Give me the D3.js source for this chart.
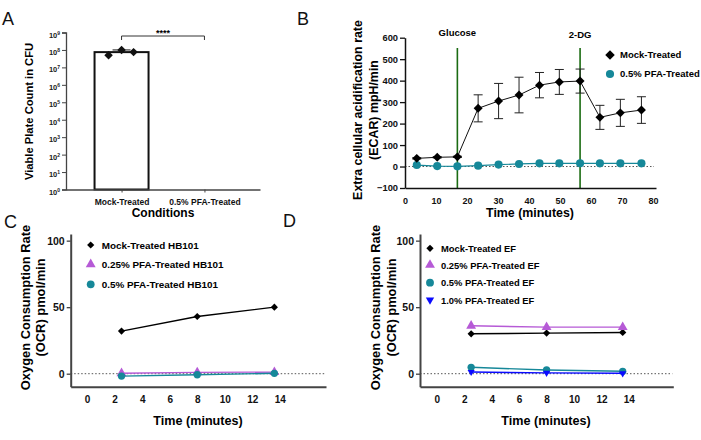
<!DOCTYPE html>
<html>
<head>
<meta charset="utf-8">
<script src="https://cdn.jsdelivr.net/npm/d3@7"></script>
<style>
  body { margin: 0; background: #fff; }
  svg { font-family: "Liberation Sans", Arial, sans-serif; }
  .bold { font-weight: bold; }
</style>
</head>
<body>
<div id="chart"></div>
<script>
// Panel A - viable plate count (log scale)
const aCategories = ["Mock-Treated", "0.5% PFA-Treated"];
const aMockCounts = [5.0e7, 1.0e8, 7.5e7];
const aExponents = [0, 1, 2, 3, 4, 5, 6, 7, 8, 9];

// Panel B - ECAR over time
const bTime = [3.8, 10.4, 16.9, 23.6, 30.2, 36.8, 43.4, 49.8, 56.5, 62.9, 69.5, 76.3];
const bMock = [38, 43, 45, 271, 305, 333, 379, 394, 398, 229, 250, 263];
const bMockSD = [3, 3, 3, 63, 82, 83, 59, 58, 56, 56, 63, 62];
const bPFA = [7, 2, 1, 4, 9, 12, 15, 15, 15, 15, 15, 15];
const bInjectLabels = ["Glucose", "2-DG"];
const bInjectTimes = [16.9, 56.5];
const bYTicks = [-100, 0, 100, 200, 300, 400, 500, 600];
const bXTicks = [0, 10, 20, 30, 40, 50, 60, 70, 80];

// Panel C - OCR HB101
const cTime = [2.5, 8.0, 13.6];
const cMock = [32, 43, 50];
const cPFA25 = [0.3, 1.0, 1.2];
const cPFA5 = [-1.8, -0.8, 0.3];

// Panel D - OCR EF
const dTime = [2.5, 8.0, 13.55];
const dMock = [30, 30.5, 31];
const dPFA25 = [36, 35, 35];
const dPFA5 = [4.8, 2.8, 1.8];
const dPFA10 = [1.3, 0.6, 0.3];

const ocrYTicks = [0, 50, 100];
const ocrXTicks = [0, 2, 4, 6, 8, 10, 12, 14];

const BLACK = "#000";
const PINK = "#b65ad6";
const TEAL = "#168899";
const BLUE = "#0a0aff";
const GREEN = "#1b6b12";

const svg = d3.select("#chart").append("svg")
    .attr("width", 701)
    .attr("height", 440);

function sym(type, size) {
    return d3.symbol().type(type).size(size)();
}
// GraphPad style diamond = rotated square
function diamond(g, x, y, size, color) {
    g.append("path")
        .attr("d", sym(d3.symbolSquare, size))
        .attr("transform", `translate(${x},${y}) rotate(45)`)
        .attr("fill", color);
}
function marker(g, kind, x, y, size, color) {
    if (kind === "diamond") return diamond(g, x, y, size, color);
    const types = { circle: d3.symbolCircle, triangle: d3.symbolTriangle, down: d3.symbolTriangle };
    g.append("path")
        .attr("d", sym(types[kind], size))
        .attr("transform", `translate(${x},${y})` + (kind === "down" ? " rotate(180)" : ""))
        .attr("fill", color);
}

function panelLetter(txt, x, y) {
    svg.append("text").attr("x", x).attr("y", y)
        .attr("font-size", 18).attr("fill", "#111").text(txt);
}
function vTitle(lines, xs, cy, size) {
    lines.forEach((t, i) => {
        svg.append("text")
            .attr("class", "bold")
            .attr("transform", `translate(${xs[i]},${cy}) rotate(-90)`)
            .attr("text-anchor", "middle")
            .attr("font-size", size)
            .text(t);
    });
}

// ---------------- Panel A ----------------
panelLetter("A", 2, 25);
const aX = d3.scalePoint().domain(aCategories).range([66, 260]).padding(0.67);
const aY = d3.scaleLog().domain([1, 1e9]).range([189.5, 32.5]);

const aMean = d3.mean(aMockCounts);
const aSD = d3.deviation(aMockCounts);
const bw = 54;

svg.append("rect")
    .attr("x", aX(aCategories[0]) - bw / 2)
    .attr("y", aY(aMean))
    .attr("width", bw)
    .attr("height", aY(1) - aY(aMean))
    .attr("fill", "#fff")
    .attr("stroke", "#111")
    .attr("stroke-width", 2);

// error bar
const ax0 = aX(aCategories[0]);
svg.append("line").attr("x1", ax0).attr("x2", ax0)
    .attr("y1", aY(aMean)).attr("y2", aY(aMean + aSD)).attr("stroke", "#111");
svg.append("line").attr("x1", ax0 - 9).attr("x2", ax0 + 9)
    .attr("y1", aY(aMean + aSD)).attr("y2", aY(aMean + aSD)).attr("stroke", "#111");

const jitter = [-13, 0, 12];
aMockCounts.forEach((v, i) => diamond(svg, ax0 + jitter[i], aY(v), 36, "#111"));

const aYAxis = svg.append("g")
    .attr("transform", "translate(66,0)")
    .call(d3.axisLeft(aY).tickValues(aExponents.map(e => Math.pow(10, e))).tickSize(4).tickPadding(2).tickFormat(""));
aYAxis.selectAll(".tick text").each(function (d) {
    const t = d3.select(this);
    t.append("tspan").text("10").attr("font-size", 7.5);
    t.append("tspan").text(Math.round(Math.log10(d))).attr("font-size", 5).attr("dy", -3);
});
aYAxis.selectAll("text").attr("class", "bold").attr("fill", "#222").attr("dy", "0.45em");
aYAxis.select(".domain").attr("stroke", "#444").attr("stroke-width", 1.3);
aYAxis.selectAll(".tick line").attr("stroke", "#444");

const aXAxis = svg.append("g")
    .attr("transform", "translate(0,189.5)")
    .call(d3.axisBottom(aX).tickSize(3).tickPadding(6).tickSizeOuter(0));
aXAxis.selectAll("text").attr("class", "bold").attr("font-size", 8.5).attr("fill", "#111");
aXAxis.select(".domain").attr("stroke", "#444").attr("stroke-width", 1.3);
aXAxis.selectAll(".tick line").attr("stroke", "#444");

// significance bracket
const ax1 = aX(aCategories[1]);
svg.append("path")
    .attr("d", `M${ax0},40V36H${ax1}V40`)
    .attr("fill", "none").attr("stroke", "#333");
svg.append("text").attr("class", "bold")
    .attr("x", (ax0 + ax1) / 2).attr("y", 35.5)
    .attr("text-anchor", "middle").attr("font-size", 9)
    .text("****");

vTitle(["Viable Plate Count in CFU"], [33], 111.5, 11.2);
svg.append("text").attr("class", "bold")
    .attr("x", 163).attr("y", 217).attr("text-anchor", "middle")
    .attr("font-size", 12).text("Conditions");

// ---------------- Panel B ----------------
panelLetter("B", 297, 25);
const bX = d3.scaleLinear().domain([0, 81]).range([405, 656]);
const bY = d3.scaleLinear().domain([-100, 600]).range([188, 37.7]);

// zero line
svg.append("line")
    .attr("x1", bX(0)).attr("x2", 654)
    .attr("y1", bY(0)).attr("y2", bY(0))
    .attr("stroke", "#555").attr("stroke-dasharray", "1.5,2");

// injection lines
bInjectTimes.forEach((t, i) => {
    svg.append("line")
        .attr("x1", bX(t)).attr("x2", bX(t))
        .attr("y1", 48).attr("y2", bY(-100))
        .attr("stroke", GREEN).attr("stroke-width", 1.6);
    svg.append("text").attr("class", "bold")
        .attr("x", bX(t)).attr("y", i === 0 ? 36 : 38)
        .attr("text-anchor", "middle").attr("font-size", 9.5)
        .text(bInjectLabels[i]);
});

const bLine = (vals) => d3.line().x((d, i) => bX(bTime[i])).y(d => bY(d))(vals);

svg.append("path").attr("d", bLine(bPFA))
    .attr("fill", "none").attr("stroke", TEAL).attr("stroke-width", 1.2);
bPFA.forEach((v, i) => marker(svg, "circle", bX(bTime[i]), bY(v), 52, TEAL));

svg.append("path").attr("d", bLine(bMock))
    .attr("fill", "none").attr("stroke", "#111").attr("stroke-width", 1);
bMock.forEach((v, i) => {
    const x = bX(bTime[i]);
    const sd = bMockSD[i];
    svg.append("line").attr("x1", x).attr("x2", x)
        .attr("y1", bY(v - sd)).attr("y2", bY(v + sd)).attr("stroke", "#222");
    [v - sd, v + sd].forEach(e => {
        svg.append("line").attr("x1", x - 4.5).attr("x2", x + 4.5)
            .attr("y1", bY(e)).attr("y2", bY(e)).attr("stroke", "#222");
    });
    diamond(svg, x, bY(v), 40, "#000");
});

const bYAxis = svg.append("g")
    .attr("transform", `translate(${bX(0)},0)`)
    .call(d3.axisLeft(bY).tickValues(bYTicks).tickSize(5).tickPadding(2).tickSizeOuter(0));
bYAxis.selectAll("text").attr("class", "bold").attr("font-size", 9.3).attr("fill", "#111");
bYAxis.select(".domain").attr("stroke", "#111").attr("stroke-width", 1.5);
bYAxis.selectAll(".tick line").attr("stroke", "#111").attr("stroke-width", 1.3);

const bXAxis = svg.append("g")
    .attr("transform", `translate(0,${bY(-100)})`)
    .call(d3.axisBottom(bX).tickValues(bXTicks).tickSize(0).tickPadding(9.5).tickSizeOuter(0));
bXAxis.selectAll("text").attr("class", "bold").attr("font-size", 9).attr("fill", "#111");
bXAxis.select(".domain").attr("stroke", "#111").attr("stroke-width", 1.5);

vTitle(["Extra cellular acidification rate", "(ECAR) mpH/min"], [362, 378], 110, 12.4);
svg.append("text").attr("class", "bold")
    .attr("x", 530).attr("y", 216.5).attr("text-anchor", "middle")
    .attr("font-size", 12.4).text("Time (minutes)");

// legend B
const bLegend = [["diamond", BLACK, "Mock-Treated", 45], ["circle", TEAL, "0.5% PFA-Treated", 52]];
bLegend.forEach((d, i) => {
    const y = 55 + i * 19;
    marker(svg, d[0], 610, y, d[3], d[1]);
    svg.append("text").attr("class", "bold")
        .attr("x", 620).attr("y", y + 3.4).attr("font-size", 9.5).text(d[2]);
});

// ---------------- Panels C and D ----------------
function ocrPanel(opt) {
    const x = d3.scaleLinear().domain(opt.xDomain).range(opt.xRange);
    const y = d3.scaleLinear().domain([-9.77, 105]).range([386.7, 234]);

    svg.append("line")
        .attr("x1", opt.xRange[0]).attr("x2", opt.xRange[1] - 1)
        .attr("y1", y(0)).attr("y2", y(0))
        .attr("stroke", "#555").attr("stroke-dasharray", "1.5,2");

    opt.series.forEach(s => {
        const line = d3.line().x((d, i) => x(opt.time[i])).y(d => y(d));
        svg.append("path").attr("d", line(s.values))
            .attr("fill", "none").attr("stroke", s.color).attr("stroke-width", 1.4);
        s.values.forEach((v, i) => marker(svg, s.kind, x(opt.time[i]), y(v), s.size, s.color));
    });

    const yAxis = svg.append("g")
        .attr("transform", `translate(${opt.xRange[0]},0)`)
        .call(d3.axisLeft(y).tickValues(ocrYTicks).tickSize(4).tickPadding(2).tickSizeOuter(0));
    yAxis.selectAll("text").attr("class", "bold").attr("font-size", 10.5).attr("fill", "#111");
    yAxis.select(".domain").attr("stroke", "#444").attr("stroke-width", 2);
    yAxis.selectAll(".tick line").attr("stroke", "#444").attr("stroke-width", 1.3);

    const xAxis = svg.append("g")
        .attr("transform", `translate(0,${y(-9.77)})`)
        .call(d3.axisBottom(x).tickValues(ocrXTicks).tickSize(0).tickPadding(9).tickSizeOuter(0));
    xAxis.selectAll("text").attr("class", "bold").attr("font-size", 10).attr("fill", "#111");
    xAxis.select(".domain").attr("stroke", "#444").attr("stroke-width", 2);

    vTitle(["Oxygen Consumption Rate", "(OCR) pmol/min"], opt.titleX, 307.5, 12.9);
    svg.append("text").attr("class", "bold")
        .attr("x", opt.timeX).attr("y", 425).attr("text-anchor", "middle")
        .attr("font-size", 12.6).text("Time (minutes)");

    opt.series.forEach((s, i) => {
        const ly = opt.legendY[i];
        marker(svg, s.kind, opt.legendX, ly, s.legendSize, s.color);
        svg.append("text").attr("class", "bold")
            .attr("x", opt.legendX + 11).attr("y", ly + 3.5)
            .attr("font-size", opt.legendFont).text(s.label);
    });
}

panelLetter("C", 4, 228);
ocrPanel({
    xDomain: [-1.19, 17.35], xRange: [70.7, 326],
    time: cTime,
    titleX: [30, 45], timeX: 198,
    legendX: 90.7, legendY: [245, 264.3, 284.3], legendFont: 9.9,
    series: [
        { label: "Mock-Treated HB101", values: cMock, color: BLACK, kind: "diamond", size: 26, legendSize: 26 },
        { label: "0.25% PFA-Treated HB101", values: cPFA25, color: PINK, kind: "triangle", size: 42, legendSize: 42 },
        { label: "0.5% PFA-Treated HB101", values: cPFA5, color: TEAL, kind: "circle", size: 42, legendSize: 48 }
    ]
});

panelLetter("D", 283, 227);
ocrPanel({
    xDomain: [-1.23, 17.24], xRange: [420, 673.3],
    time: dTime,
    titleX: [380, 395.5], timeX: 546,
    legendX: 430, legendY: [248.3, 265, 282.7, 300], legendFont: 9.4,
    series: [
        { label: "Mock-Treated EF", values: dMock, color: BLACK, kind: "diamond", size: 26, legendSize: 26 },
        { label: "0.25% PFA-Treated EF", values: dPFA25, color: PINK, kind: "triangle", size: 42, legendSize: 42 },
        { label: "0.5% PFA-Treated EF", values: dPFA5, color: TEAL, kind: "circle", size: 42, legendSize: 48 },
        { label: "1.0% PFA-Treated EF", values: dPFA10, color: BLUE, kind: "down", size: 22, legendSize: 30 }
    ]
});
</script>
</body>
</html>
